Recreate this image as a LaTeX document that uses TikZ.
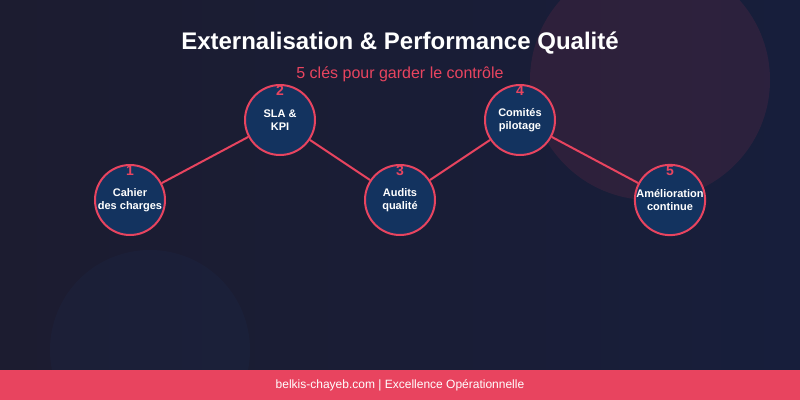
\documentclass[tikz,border=0pt]{standalone}
\usepackage{fontspec}
\setmainfont{Liberation Sans}
\usepackage{tikz}
\usetikzlibrary{positioning}
\definecolor{bgleft}{HTML}{1C1C30}
\definecolor{bgright}{HTML}{171E3B}
\definecolor{accent}{HTML}{E8445F}
\definecolor{keyfill}{HTML}{13335F}
\definecolor{blob}{HTML}{1E3A6A}

\begin{document}
\begin{tikzpicture}[
        x=0.75pt, y=-0.75pt,
        key/.style={circle, draw=accent, fill=keyfill, line width=1.5pt, minimum size=52.5pt, inner sep=0pt, align=center, text=white, font=\fontsize{8.25}{9.75}\selectfont\bfseries},
        num/.style={anchor=north, inner sep=0pt, text=accent, font=\fontsize{10.5}{12}\selectfont\bfseries},
        link/.style={draw=accent, line width=1.5pt},
        title/.style={text=white, font=\fontsize{18}{21}\selectfont\bfseries},
        subtitle/.style={text=accent, font=\fontsize{12}{14}\selectfont}
    ]
        % BACKGROUND
        \useasboundingbox (0,0) rectangle (800,400);
        \fill[left color=bgleft, right color=bgright] (0,0) rectangle (800,400);
        \begin{scope}
            \clip (0,0) rectangle (800,400);
            \fill[accent, opacity=0.1] (650,80) circle[radius=90pt];
            \fill[blob, opacity=0.12] (150,350) circle[radius=75pt];
        \end{scope}

        % TITLES
        \node[title] (heading) at (400,43) {Externalisation \& Performance Qualité};
        \node[subtitle] (tagline) at (400,74) {5 clés pour garder le contrôle};

        % KEYS
        \node[key] (audits) at (400,200) {Audits\\qualité};
        \node[key, on grid] (sla) [above left=60pt and 90pt of audits] {SLA \&\\KPI};
        \node[key, on grid] (cahier) [below left=60pt and 112.5pt of sla] {Cahier\\des charges};
        \node[key, on grid] (comites) [above right=60pt and 90pt of audits] {Comités\\pilotage};
        \node[key, on grid] (amelioration) [below right=60pt and 112.5pt of comites] {Amélioration\\continue};

        % NUMBERS
        \node[num] (num1) at ([yshift=-1pt]cahier.north) {1};
        \node[num] (num2) at ([yshift=-1pt]sla.north) {2};
        \node[num] (num3) at ([yshift=-1pt]audits.north) {3};
        \node[num] (num4) at ([yshift=-1pt]comites.north) {4};
        \node[num] (num5) at ([yshift=-1pt]amelioration.north) {5};

        % LINKS
        \draw[link] (cahier) -- (sla);
        \draw[link] (sla) -- (audits);
        \draw[link] (audits) -- (comites);
        \draw[link] (comites) -- (amelioration);

        % FOOTER
        \fill[accent] (0,370) rectangle (800,400);
        \node[text=white, font=\fontsize{9}{11}\selectfont] (footer) at (400,385) {belkis-chayeb.com | Excellence Opérationnelle};
    \end{tikzpicture}
\end{document}
